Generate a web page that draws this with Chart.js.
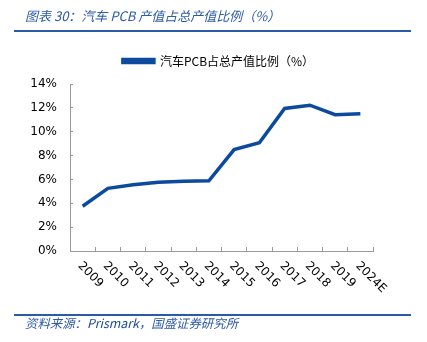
<!DOCTYPE html>
<html lang="zh">
<head>
    <meta charset="UTF-8">
    <title>汽车PCB产值占总产值比例</title>
    <style>
        body {
            margin: 0;
            width: 427px;
            height: 342px;
            position: relative;
            background: #fff;
            overflow: hidden;
        }
        .title, .source {
            position: absolute;
            left: 25px;
            font-family: "Noto Sans CJK SC", sans-serif;
            font-style: italic;
            color: #2b5aa8;
            white-space: nowrap;
        }
        .title { top: 7px; font-size: 13px; line-height: 18px; }
        .source { top: 315px; font-size: 12.4px; line-height: 16px; }
        .source b { font-weight: normal; color: #1a4a9a; }
        .rule {
            position: absolute;
            left: 14px;
            width: 397px;
            height: 2px;
            background: #2b5aa8;
        }
        #wrap {
            position: absolute;
            left: 0;
            top: 0;
            width: 427px;
            height: 342px;
        }
    </style>
</head>
<body>
    <div id="wrap"><canvas id="pcbChart"></canvas></div>
    <div class="title">图表 30：汽车 PCB 产值占总产值比例（%）</div>
    <div class="rule" style="top:30px"></div>
    <div class="rule" style="top:314px"></div>
    <div class="source">资料来源：<b>Prismark</b>，国盛证券研究所</div>

    <script src="https://cdn.jsdelivr.net/npm/chart.js"></script>
    <script>
        // 年份与比例（%）
        const years = ['2009', '2010', '2011', '2012', '2013', '2014', '2015', '2016', '2017', '2018', '2019', '2024E'];
        const sharePct = [3.75, 5.25, 5.55, 5.77, 5.85, 5.88, 8.5, 9.08, 11.95, 12.22, 11.43, 11.5];
        const yTicks = [0, 2, 4, 6, 8, 10, 12, 14];
        const seriesName = '汽车PCB占总产值比例（%）';

        const lineBlue = '#0b4a9e';
        const axisGray = '#9a9a9a';
        const labelFont = '12px "DejaVu Sans", sans-serif';

        // x轴标签顺时针旋转45度
        const rotatedLabels = {
            id: 'rotatedLabels',
            afterDraw(chart) {
                const xs = chart.scales.x;
                const ctx = chart.ctx;
                ctx.save();
                ctx.font = labelFont;
                ctx.fillStyle = '#000';
                ctx.textAlign = 'left';
                ctx.textBaseline = 'middle';
                years.forEach((y, i) => {
                    const px = xs.getPixelForValue(i);
                    ctx.save();
                    ctx.translate(px - 3, xs.top + 13);
                    ctx.rotate(Math.PI / 4);
                    ctx.fillText(y, 0, 0);
                    ctx.restore();
                });
                ctx.restore();
            }
        };

        new Chart(document.getElementById('pcbChart'), {
            type: 'line',
            data: {
                labels: years,
                datasets: [{
                    label: seriesName,
                    data: sharePct,
                    borderColor: lineBlue,
                    backgroundColor: lineBlue,
                    borderWidth: 3.5,
                    pointRadius: 0,
                    tension: 0
                }]
            },
            options: {
                responsive: true,
                maintainAspectRatio: false,
                animation: false,
                layout: { padding: { top: 40, right: 0, bottom: 0, left: 10 } },
                plugins: {
                    legend: {
                        labels: {
                            boxWidth: 31,
                            boxHeight: 3,
                            padding: 15,
                            color: '#000',
                            font: { family: '"Noto Sans CJK SC", sans-serif', size: 12 }
                        }
                    },
                    tooltip: { enabled: false }
                },
                scales: {
                    x: {
                        offset: true,
                        grid: {
                            offset: true,
                            drawOnChartArea: false,
                            drawTicks: true,
                            tickLength: -4,
                            color: axisGray
                        },
                        border: { color: axisGray },
                        ticks: { display: false },
                        afterFit(scale) { scale.height = 91; }
                    },
                    y: {
                        min: 0,
                        max: 14,
                        afterBuildTicks(scale) {
                            scale.ticks = yTicks.map(v => ({ value: v }));
                        },
                        grid: {
                            drawOnChartArea: false,
                            drawTicks: true,
                            tickLength: -3,
                            color: axisGray
                        },
                        border: { color: axisGray },
                        ticks: {
                            color: '#000',
                            padding: 16,
                            font: { family: '"DejaVu Sans", sans-serif', size: 12 },
                            callback: v => v + '%'
                        },
                        afterFit(scale) { scale.width = 60; }
                    },
                    // 图例与绘图区之间的留白
                    spacerTop: {
                        position: 'top',
                        grid: { display: false },
                        border: { display: false },
                        ticks: { display: false },
                        afterFit(scale) { scale.height = 7; }
                    },
                    // 右侧留白
                    spacer: {
                        position: 'right',
                        grid: { display: false },
                        border: { display: false },
                        ticks: { display: false },
                        afterFit(scale) { scale.width = 54; }
                    }
                }
            },
            plugins: [rotatedLabels]
        });
    </script>
</body>
</html>
